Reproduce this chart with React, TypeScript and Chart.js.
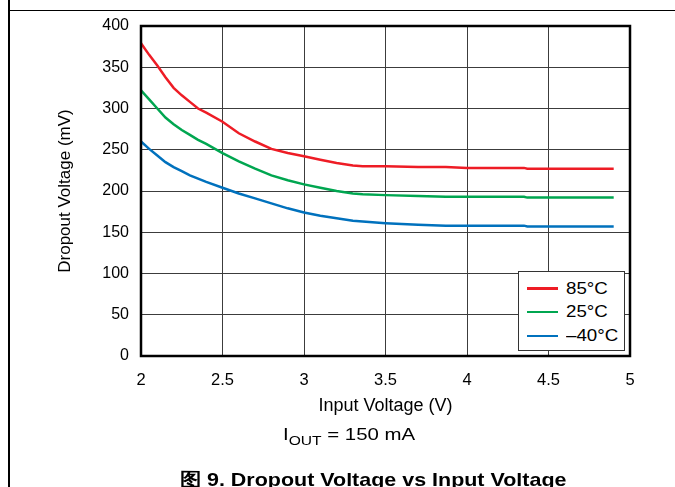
import React, { useEffect, useRef } from "react";
import { Chart, registerables } from "chart.js";

Chart.register(...registerables);

const inputVoltage = [2.0, 2.05, 2.1, 2.15, 2.2, 2.25, 2.3, 2.35, 2.4, 2.5, 2.6, 2.7, 2.8, 2.9, 3.0, 3.1, 3.2, 3.3, 3.36, 3.5, 3.7, 3.87, 4.0, 4.2, 4.35, 4.37, 4.6, 4.9];
const dropout85C = [379, 365, 352, 338, 325, 316, 308, 300, 295, 284, 270, 260, 251, 246, 242, 238, 234, 231, 230, 230, 229, 229, 228, 228, 228, 227, 227, 227];
const dropout25C = [322, 311, 300, 289, 281, 274, 268, 262, 257, 246, 236, 227, 219, 213, 208, 204, 200, 197, 196, 195, 194, 193, 193, 193, 193, 192, 192, 192];
const dropoutMinus40C = [260, 251, 243, 235, 229, 224, 219, 215, 211, 204, 197, 191, 185, 179, 174, 170, 167, 164, 163, 161, 159, 158, 158, 158, 158, 157, 157, 157];

const seriesNames = ["85°C", "25°C", "–40°C"];
const seriesColors = ["#EE1C25", "#00A650", "#0071BD"];
const seriesValues = [dropout85C, dropout25C, dropoutMinus40C];

const xTickValues = [2, 2.5, 3, 3.5, 4, 4.5, 5];
const yTickValues = [0, 50, 100, 150, 200, 250, 300, 350, 400];
const xAxisTitle = "Input Voltage (V)";
const yAxisTitle = "Dropout Voltage (mV)";
const conditionMain = "I";
const conditionSub = "OUT";
const conditionRest = " = 150 mA";
const captionText = "图 9. Dropout Voltage vs Input Voltage";

const FONT = "'Liberation Sans', Arial, Helvetica, sans-serif";

const framePlugin = {
  id: "plotFrame",
  afterDraw(chart: any) {
    const { ctx, chartArea } = chart;
    ctx.save();
    ctx.strokeStyle = "#000";
    ctx.lineWidth = 2.5;
    ctx.strokeRect(chartArea.left, chartArea.top, chartArea.right - chartArea.left, chartArea.bottom - chartArea.top);
    ctx.restore();
  },
};

export default function App() {
  const canvasRef = useRef<HTMLCanvasElement | null>(null);

  useEffect(() => {
    if (!canvasRef.current) return;
    const chart = new Chart(canvasRef.current, {
      type: "line",
      data: {
        datasets: seriesNames.map((name, i) => ({
          label: name,
          data: inputVoltage.map((x, j) => ({ x, y: seriesValues[i][j] })),
          borderColor: seriesColors[i],
          backgroundColor: seriesColors[i],
          borderWidth: 2.5,
          pointRadius: 0,
          tension: 0,
          fill: false,
        })),
      },
      options: {
        responsive: false,
        animation: false,
        events: [],
        layout: { padding: { left: 0, top: 26, right: 45, bottom: 0 } },
        plugins: {
          legend: { display: false },
          tooltip: { enabled: false },
          title: { display: false },
        },
        scales: {
          x: {
            type: "linear",
            min: 2,
            max: 5,
            afterBuildTicks: (scale: any) => {
              scale.ticks = xTickValues.map((value) => ({ value }));
            },
            afterFit: (scale: any) => {
              scale.height = 131;
            },
            ticks: {
              color: "#000",
              font: { family: FONT, size: 16.5 },
              padding: 15,
              maxRotation: 0,
              callback: (v: any) => String(v),
            },
            grid: { color: "#3c3c3c", lineWidth: 1, drawTicks: false },
            border: { display: false },
            title: {
              display: true,
              text: xAxisTitle,
              color: "#000",
              font: { family: FONT, size: 18 },
              padding: { top: 0, bottom: 70 },
            },
          },
          y: {
            type: "linear",
            min: 0,
            max: 400,
            afterBuildTicks: (scale: any) => {
              scale.ticks = yTickValues.map((value) => ({ value }));
            },
            afterFit: (scale: any) => {
              scale.width = 141;
            },
            ticks: {
              color: "#000",
              font: { family: FONT, size: 16 },
              padding: 12,
              callback: (v: any) => String(v),
            },
            grid: { color: "#3c3c3c", lineWidth: 1, drawTicks: false },
            border: { display: false },
            title: {
              display: true,
              text: yAxisTitle,
              color: "#000",
              font: { family: FONT, size: 17 },
              padding: { top: 55, bottom: 0 },
            },
          },
        },
      },
      plugins: [framePlugin],
    });
    return () => chart.destroy();
  }, []);

  const legendRowCenters = [17, 40.5, 64.5];

  return (
    <div
      style={{
        position: "fixed",
        left: 0,
        top: 0,
        width: 675,
        height: 487,
        overflow: "hidden",
        background: "#fff",
        fontFamily: FONT,
        color: "#000",
      }}
    >
      <canvas ref={canvasRef} width={675} height={487} style={{ position: "absolute", left: 0, top: 0, width: 675, height: 487 }} />
      <div style={{ position: "absolute", left: 8, top: 0, width: 1.5, height: 487, background: "#000" }} />
      <div style={{ position: "absolute", left: 8, top: 9.5, width: 667, height: 1.5, background: "#000" }} />
      <div
        style={{
          position: "absolute",
          left: 518,
          top: 270.5,
          width: 106.5,
          height: 80.5,
          border: "1px solid #333",
          boxSizing: "border-box",
          background: "#fff",
        }}
      >
        {seriesNames.map((name, i) => (
          <div
            key={name}
            style={{
              position: "absolute",
              left: 0,
              top: legendRowCenters[i] - 12,
              height: 24,
              width: 104,
              display: "flex",
              alignItems: "center",
            }}
          >
            <div style={{ marginLeft: 8, width: 31, height: 2.5, background: seriesColors[i] }} />
            <div
              style={{
                marginLeft: 8,
                fontSize: 17,
                lineHeight: "24px",
                whiteSpace: "nowrap",
                transformOrigin: "left center",
                transform: "scaleX(1.1)",
              }}
            >
              {name}
            </div>
          </div>
        ))}
      </div>
      <div
        style={{
          position: "absolute",
          left: 283,
          top: 425,
          fontSize: 17,
          lineHeight: "20px",
          whiteSpace: "nowrap",
          transformOrigin: "left top",
          transform: "scaleX(1.2)",
        }}
      >
        {conditionMain}
        <span style={{ fontSize: 13, position: "relative", top: 5 }}>{conditionSub}</span>
        {conditionRest}
      </div>
      <div
        style={{
          position: "absolute",
          left: 0,
          width: 746,
          top: 468,
          textAlign: "center",
          fontSize: 19,
          fontWeight: "bold",
          lineHeight: "24px",
          whiteSpace: "nowrap",
          transformOrigin: "center top",
          transform: "scaleX(1.13)",
        }}
      >
        {captionText}
      </div>
    </div>
  );
}
